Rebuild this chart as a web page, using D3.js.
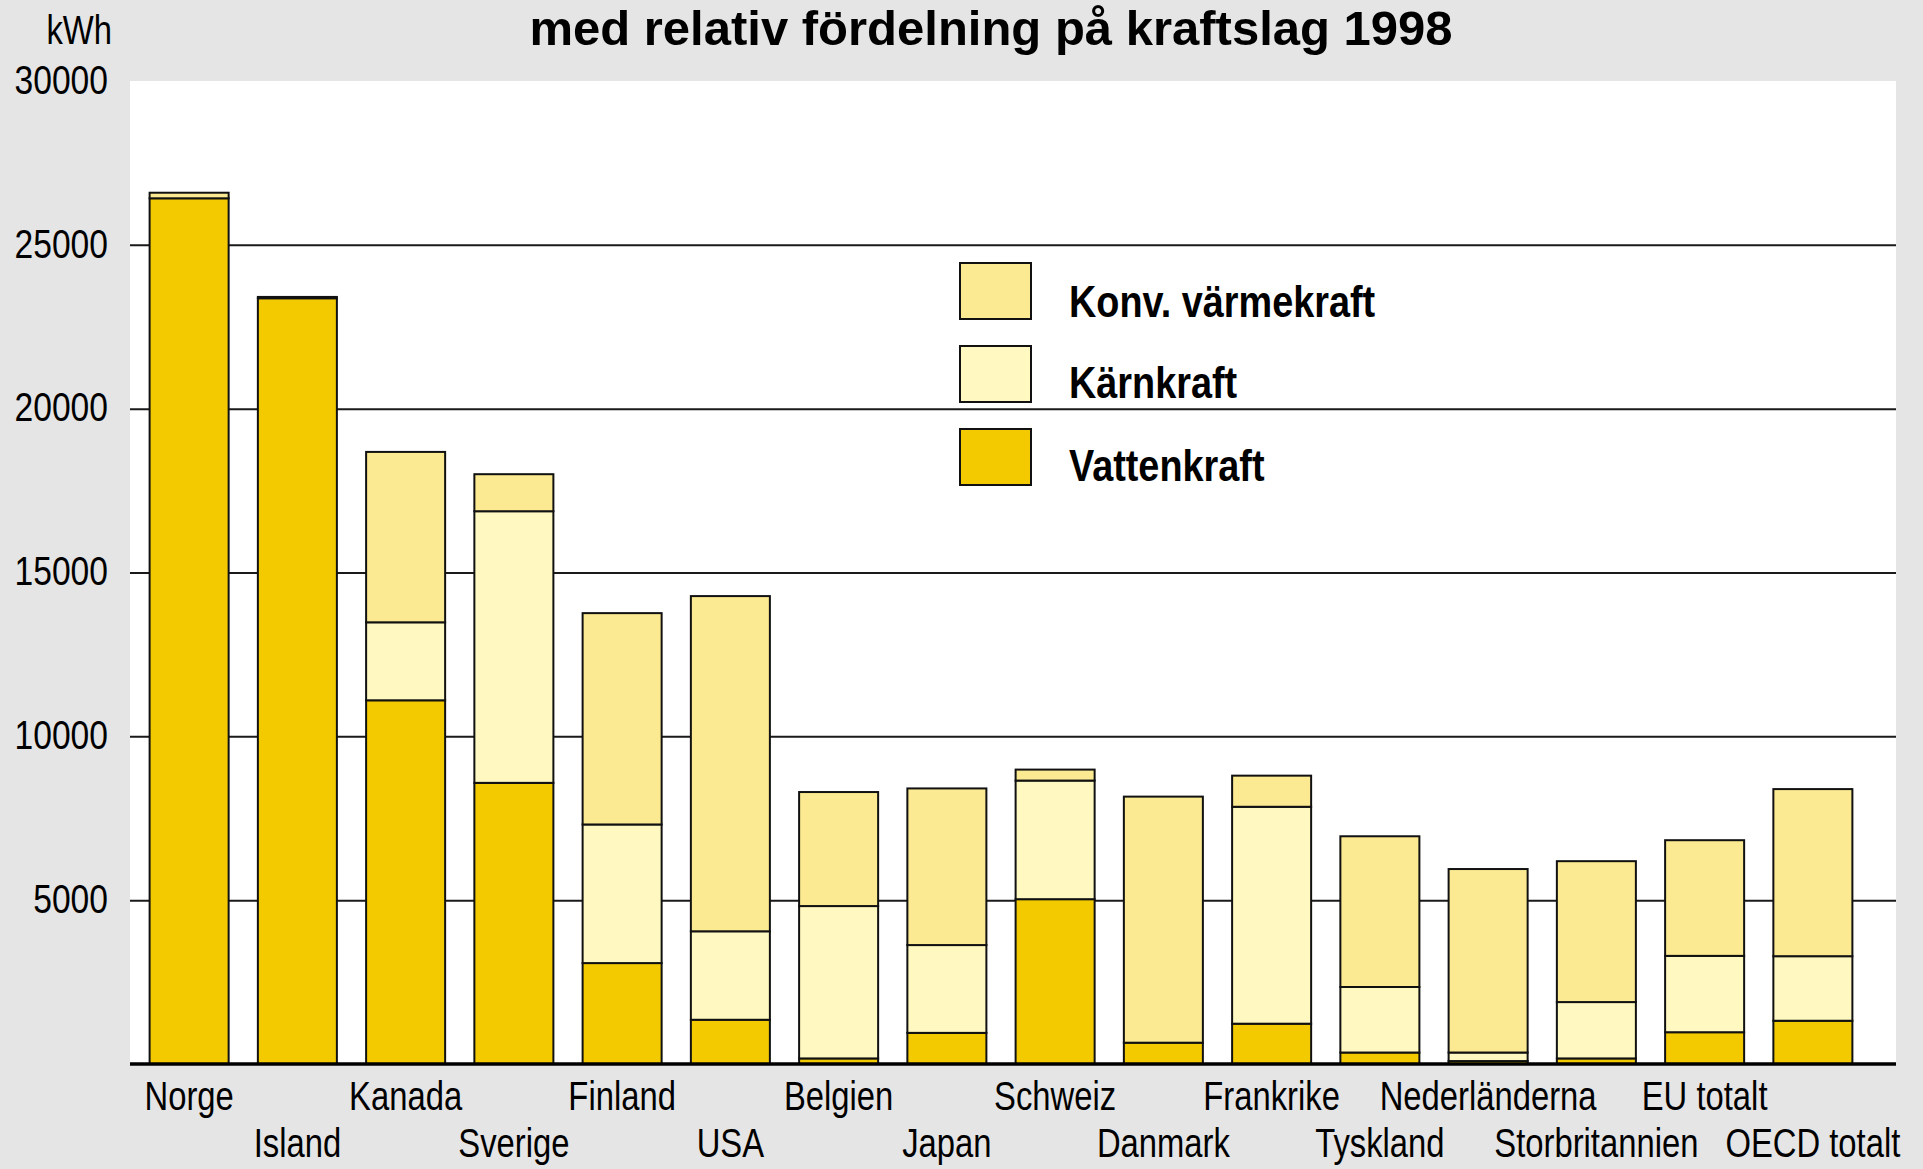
<!DOCTYPE html>
<html>
<head>
<meta charset="utf-8">
<script src="https://cdn.jsdelivr.net/npm/d3@7"></script>
<style>
  body { margin: 0; background: #e5e5e5; }
  svg { display: block; }
</style>
</head>
<body>
<div id="chart"></div>
<script>
// kWh per capita, split by power type (1998)
var countries = ["Norge", "Island", "Kanada", "Sverige", "Finland", "USA", "Belgien", "Japan",
                 "Schweiz", "Danmark", "Frankrike", "Tyskland", "Nederländerna", "Storbritannien",
                 "EU totalt", "OECD totalt"];
var vattenkraft = [26420, 23370, 11100, 8580, 3080, 1350, 170, 950, 5030, 650, 1230, 350, 90, 170, 970, 1320];
var karnkraft   = [0, 0, 2380, 8290, 4230, 2700, 4650, 2680, 3620, 0, 6620, 2000, 260, 1720, 2330, 1970];
var varmekraft  = [170, 40, 5200, 1130, 6450, 10230, 3480, 4780, 335, 7510, 950, 4600, 5600, 4300, 3530, 5100];
var yTicks = [5000, 10000, 15000, 20000, 25000, 30000];

var seriesKeys = ["vatten", "karn", "varme"];
var seriesNames = {varme: "Konv. värmekraft", karn: "Kärnkraft", vatten: "Vattenkraft"};
var colors = {vatten: "#f3ca00", karn: "#fff9c1", varme: "#fbea91"};

var width = 1923, height = 1169;
var plot = {left: 130, right: 1896, top: 81, bottom: 1064};
var font = "'Liberation Sans', Arial, sans-serif";
var squeeze = 0.82;   // no condensed face installed, so narrow the glyphs by hand

var svg = d3.select("#chart")
  .append("svg")
    .attr("width", width)
    .attr("height", height);

svg.append("rect")
  .attr("width", width)
  .attr("height", height)
  .attr("fill", "#e5e5e5");

svg.append("rect")
  .attr("x", plot.left)
  .attr("y", plot.top)
  .attr("width", plot.right - plot.left)
  .attr("height", plot.bottom - plot.top)
  .attr("fill", "#ffffff");

var x = d3.scaleBand()
  .domain(countries)
  .range([135, 1867])
  .paddingInner(0.27)
  .paddingOuter(0.135);

var y = d3.scaleLinear()
  .domain([0, 30000])
  .range([plot.bottom, plot.top]);

// grid + tick labels
var yAxis = d3.axisLeft(y)
  .tickValues(yTicks)
  .tickSizeInner(-(plot.right - plot.left))
  .tickSizeOuter(0)
  .tickPadding(22)
  .tickFormat(d3.format("d"));

var gy = svg.append("g")
  .attr("transform", "translate(" + plot.left + ",0)")
  .call(yAxis);
gy.select(".domain").remove();
gy.selectAll(".tick line")
  .attr("stroke", "#1a1a1a")
  .attr("stroke-width", 2)
  .attr("opacity", function (d) { return d == 30000 ? 0 : 1; });
gy.selectAll(".tick text")
  .attr("fill", "#000")
  .attr("x", -22 / squeeze)
  .attr("dy", "0.3em")
  .attr("transform", "scale(" + squeeze + ",1)")
  .style("font-family", font)
  .style("font-size", "41px");

svg.append("text")
  .attr("transform", "translate(112,44) scale(" + squeeze + ",1)")
  .attr("text-anchor", "end")
  .style("font-family", font)
  .style("font-size", "40px")
  .text("kWh");

// stacked bars
var table = countries.map(function (c, i) {
  return {land: c, vatten: vattenkraft[i], karn: karnkraft[i], varme: varmekraft[i]};
});
var stacked = d3.stack().keys(seriesKeys)(table);

svg.append("g")
  .selectAll("g")
  .data(stacked)
  .enter()
    .append("g")
      .attr("fill", function (d) { return colors[d.key]; })
    .selectAll("rect")
    .data(function (d) { return d; })
    .enter()
      .append("rect")
        .attr("x", function (d) { return x(d.data.land); })
        .attr("width", x.bandwidth())
        .attr("y", function (d) { return y(d[1]); })
        .attr("height", function (d) { return y(d[0]) - y(d[1]); })
        .attr("stroke", "#111")
        .attr("stroke-width", 2);

// baseline
svg.append("line")
  .attr("x1", plot.left)
  .attr("x2", plot.right)
  .attr("y1", y(0))
  .attr("y2", y(0))
  .attr("stroke", "#000")
  .attr("stroke-width", 3.5);

// country labels, two alternating rows
svg.append("g")
  .selectAll("text")
  .data(countries)
  .enter()
    .append("text")
      .attr("transform", function (d, i) {
        var cx = x(d) + x.bandwidth() / 2;
        var cy = i % 2 == 0 ? 1110 : 1157;
        return "translate(" + cx + "," + cy + ") scale(" + squeeze + ",1)";
      })
      .attr("text-anchor", "middle")
      .style("font-family", font)
      .style("font-size", "40px")
      .text(function (d) { return d; });

// title
svg.append("text")
  .attr("x", 991)
  .attr("y", 45)
  .attr("text-anchor", "middle")
  .style("font-family", font)
  .style("font-weight", "bold")
  .style("font-size", "49px")
  .text("med relativ fördelning på kraftslag 1998");

// legend
var legendKeys = ["varme", "karn", "vatten"];
var legend = svg.append("g")
  .selectAll("g")
  .data(legendKeys)
  .enter()
    .append("g")
      .attr("transform", function (d, i) { return "translate(960," + (263 + i * 83) + ")"; });

legend.append("rect")
  .attr("width", 71)
  .attr("height", 56)
  .attr("fill", function (d) { return colors[d]; })
  .attr("stroke", "#111")
  .attr("stroke-width", 2);

legend.append("text")
  .attr("transform", function (d, i) { return "translate(109," + [54, 52, 52][i] + ") scale(0.86,1)"; })
  .style("font-family", font)
  .style("font-weight", "bold")
  .style("font-size", "44px")
  .text(function (d) { return seriesNames[d]; });
</script>
</body>
</html>
